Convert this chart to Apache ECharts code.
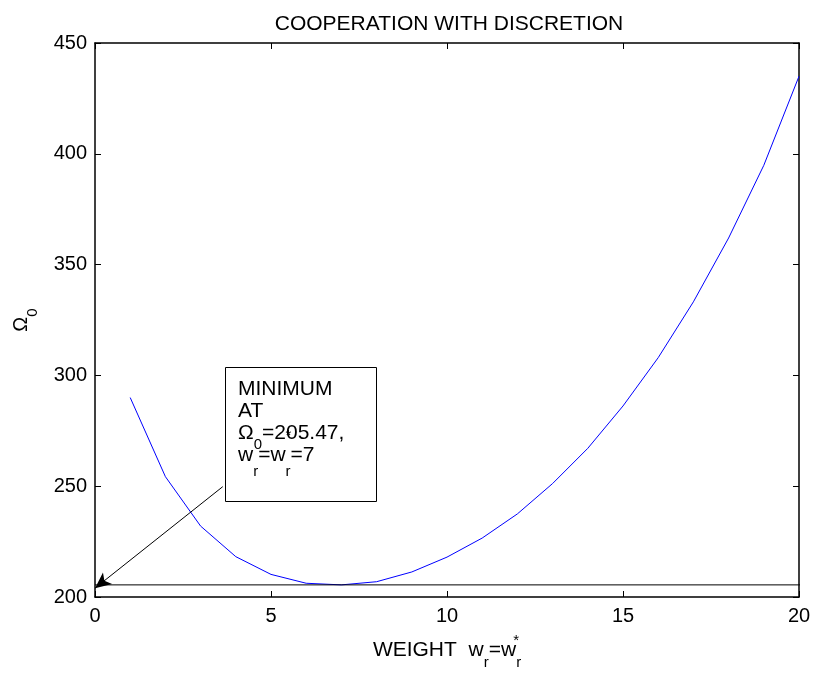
<!DOCTYPE html>
<html>
<head>
<meta charset="utf-8">
<script src="https://cdn.jsdelivr.net/npm/echarts@6/dist/echarts.min.js"></script>
<style>
  html, body { margin: 0; padding: 0; background: #fff; }
  #chart { width: 815px; height: 673px; }
</style>
</head>
<body>
<div id="chart"></div>
<script>
// Loss Omega_0 as a function of the weight w_r (= w_r*) under cooperation with discretion
const weights = [1, 2, 3, 4, 5, 6, 7, 8, 9, 10, 11, 12, 13, 14, 15, 16, 17, 18, 19, 20];
const omega = [290.0, 254.3, 232.0, 218.2, 210.2, 206.2, 205.47, 206.9, 211.3, 218.0,
               226.6, 237.5, 251.2, 267.1, 286.2, 308.0, 333.2, 362.0, 394.8, 435.0];

// Axis ranges
const xRange = [0, 20, 5];
const yRange = [200, 450, 50];

// Minimum reported in the annotation
const minWeight = 7;
const minOmega = 205.47;

// Reference level at the minimum, and the annotation arrow (data units)
const levelX = [0, 20.2];
const arrowFrom = [3.63, 249.8];
const arrowTo = [0, 204];

const FONT = "'Liberation Sans', Arial, Helvetica, sans-serif";

const chart = echarts.init(document.getElementById('chart'), null, { renderer: 'canvas' });

function frameAxisLine() {
  return { show: true, onZero: false, lineStyle: { color: '#000', width: 1.5 } };
}
function innerTick() {
  return { show: true, inside: true, length: 6, lineStyle: { color: '#000', width: 1 } };
}

function xAxisDef(position, withLabels) {
  return {
    type: 'value', position: position,
    min: xRange[0], max: xRange[1], interval: xRange[2],
    axisLine: frameAxisLine(), axisTick: innerTick(), splitLine: { show: false },
    axisLabel: { show: withLabels, color: '#000', fontSize: 20, fontFamily: FONT, margin: 9 }
  };
}
function yAxisDef(position, withLabels) {
  return {
    type: 'value', position: position,
    min: yRange[0], max: yRange[1], interval: yRange[2],
    axisLine: frameAxisLine(), axisTick: innerTick(), splitLine: { show: false },
    axisLabel: { show: withLabels, color: '#000', fontSize: 20, fontFamily: FONT, margin: 8 }
  };
}

const xAxes = [xAxisDef('bottom', true), xAxisDef('top', false)];
Object.assign(xAxes[0], {
  name: 'WEIGHT  w{sub|r}=w{sup|*}{sub|r}',
  nameLocation: 'middle',
  nameGap: 41,
  nameTextStyle: {
    color: '#000', fontSize: 21, fontFamily: FONT, lineHeight: 24,
    rich: {
      sub: { color: '#000', fontSize: 15, fontFamily: FONT, lineHeight: 24, padding: [24, 0, 0, 0] },
      sup: { color: '#000', fontSize: 15, fontFamily: FONT, lineHeight: 24, width: 0, padding: [0, 0, 19, 0] }
    }
  }
});

const yAxes = [yAxisDef('left', true), yAxisDef('right', false)];
Object.assign(yAxes[0], {
  name: 'Ω{sub|0}',
  nameLocation: 'middle',
  nameGap: 62,
  nameTextStyle: {
    color: '#000', fontSize: 20, fontFamily: FONT, lineHeight: 24,
    rich: {
      sub: { color: '#000', fontSize: 15, fontFamily: FONT, lineHeight: 24, padding: [24, 0, 0, 0] }
    }
  }
});

const noteText =
  'MINIMUM\nAT\nΩ{s0|0}=' + minOmega.toFixed(2) + ',\n' +
  'w{s1|r}=w{up|*}{s1|r}=' + minWeight;

chart.setOption({
  animation: false,
  backgroundColor: '#fff',
  title: {
    text: 'COOPERATION WITH DISCRETION',
    left: 444, top: 9, textAlign: 'center',
    textStyle: { color: '#000', fontSize: 21, fontWeight: 'normal', fontFamily: FONT }
  },
  grid: { left: 95, right: 16, top: 43, bottom: 76, containLabel: false, outerBoundsMode: 'none' },
  xAxis: xAxes,
  yAxis: yAxes,
  series: [
    {
      name: 'omega',
      type: 'line',
      data: weights.map((w, i) => [w, omega[i]]),
      symbol: 'none',
      lineStyle: { color: '#0000ff', width: 1 },
      silent: true,
      markLine: {
        silent: true,
        symbol: ['none', 'arrow'],
        symbolSize: [11, 16],
        label: { show: false },
        lineStyle: { color: '#000', width: 1, type: 'solid' },
        data: [[{ coord: arrowFrom }, { coord: arrowTo }]]
      }
    },
    {
      name: 'level',
      type: 'line',
      data: levelX.map(x => [x, minOmega]),
      symbol: 'none',
      clip: false,
      lineStyle: { color: '#000', width: 1 },
      silent: true
    }
  ],
  graphic: [
    {
      type: 'rect',
      shape: { x: 225.5, y: 367.5, width: 151, height: 134 },
      style: { fill: '#fff', stroke: '#000', lineWidth: 1 },
      z: 10
    },
    {
      type: 'text',
      x: 238, y: 378,
      style: {
        text: noteText,
        fill: '#000', fontSize: 21, fontFamily: FONT, lineHeight: 22,
        verticalAlign: 'top', align: 'left',
        rich: {
          s0: { fill: '#000', fontSize: 15, fontFamily: FONT, lineHeight: 22, padding: [24, 0, 0, 0] },
          s1: { fill: '#000', fontSize: 15, fontFamily: FONT, lineHeight: 22, padding: [34, 0, 0, 0] },
          up: { fill: '#000', fontSize: 15, fontFamily: FONT, lineHeight: 22, width: 0, padding: [0, 0, 39, 0] }
        }
      },
      z: 11
    }
  ]
});
</script>
</body>
</html>
